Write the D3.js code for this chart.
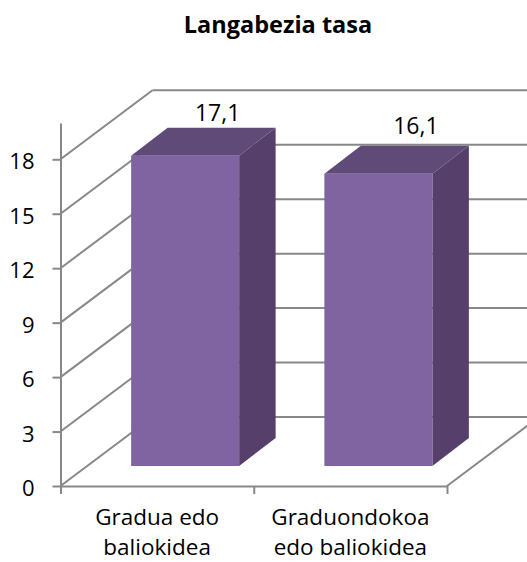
<!DOCTYPE html>
<html>
<head>
<meta charset="utf-8">
<script src="https://cdn.jsdelivr.net/npm/d3@7"></script>
<style>
  html, body { margin: 0; padding: 0; background: #fff; }
  text { font-family: "Open Sans", "Noto Sans", sans-serif; fill: #000; }
</style>
</head>
<body>
<svg id="chart" width="527" height="562" style="display:block"></svg>
<script>
const chartTitle = "Langabezia tasa";
const categories = ["Gradua edo baliokidea", "Graduondokoa edo baliokidea"];
const categoryLines = [["Gradua edo", "baliokidea"], ["Graduondokoa", "edo baliokidea"]];
const values = [17.1, 16.1];
const valueLabels = ["17,1", "16,1"];
const yTicks = [0, 3, 6, 9, 12, 15, 18];

const svg = d3.select("#chart");
const grey = "#888888";

const x = d3.scaleBand().domain(categories).range([60.5, 447]);
const y = d3.scaleLinear().domain([0, 20]).range([486, 123]);

// oblique offset of the back wall, and of the bars
const wallDx = 92, wallDy = -69;
const barInsetX = 28, barInsetY = -20;
const barW = 108, barDx = 36.5, barDy = -28;

svg.append("text")
    .attr("x", 278).attr("y", 33)
    .attr("text-anchor", "middle")
    .attr("font-size", 23.5).attr("font-weight", 700)
    .text(chartTitle);

// back wall gridlines
const grid = svg.append("g").attr("stroke", grey).attr("stroke-width", 2).attr("fill", "none");
yTicks.forEach(t => {
    grid.append("line")
        .attr("x1", x.range()[0] + wallDx).attr("x2", 527)
        .attr("y1", y(t) + wallDy).attr("y2", y(t) + wallDy);
    grid.append("line")
        .attr("x1", x.range()[0]).attr("x2", x.range()[0] + wallDx)
        .attr("y1", y(t)).attr("y2", y(t) + wallDy);
});
// right floor edge
grid.append("line")
    .attr("x1", x.range()[1]).attr("x2", x.range()[1] + wallDx)
    .attr("y1", y(0)).attr("y2", y(0) + wallDy);

// axes
const yAxis = d3.axisLeft(y).tickValues(yTicks).tickSize(8).tickSizeOuter(0).tickPadding(18).tickFormat(d3.format("d"));
const gy = svg.append("g").attr("transform", `translate(${x.range()[0]},0)`).call(yAxis);
gy.selectAll("text").attr("font-size", 22).attr("dy", "0.44em");

const xEdges = [x.range()[0], x(categories[1]), x.range()[1]];
const xAxis = d3.axisBottom(d3.scaleIdentity().domain(x.range())).tickValues(xEdges).tickSize(8).tickSizeOuter(0).tickFormat("");
svg.append("g").attr("transform", `translate(0,${y(0)})`).call(xAxis);
svg.selectAll(".domain, .tick line").attr("stroke", grey).attr("stroke-width", 2);

// bars
const labelNudge = [[-4, -7], [1, -12]];
const bars = svg.append("g").selectAll("g").data(categories).join("g");
bars.each(function(c, i) {
    const g = d3.select(this);
    const left = x(c) + x.bandwidth() / 2 - barW / 2 + barInsetX;
    const right = left + barW;
    const top = y(values[i]) + barInsetY;
    const bottom = y(0) + barInsetY;

    const side = d3.path();
    side.moveTo(right, top);
    side.lineTo(right + barDx, top + barDy);
    side.lineTo(right + barDx, bottom + barDy);
    side.lineTo(right, bottom);
    side.closePath();
    g.append("path").attr("d", side.toString()).attr("fill", "#56406b");

    const lid = d3.path();
    lid.moveTo(left, top);
    lid.lineTo(left + barDx, top + barDy);
    lid.lineTo(right + barDx, top + barDy);
    lid.lineTo(right, top);
    lid.closePath();
    g.append("path").attr("d", lid.toString()).attr("fill", "#5f4a78");

    g.append("rect")
        .attr("x", left).attr("y", top)
        .attr("width", barW).attr("height", bottom - top)
        .attr("fill", "#8064a2");

    g.append("text")
        .attr("x", left + barW / 2 + barDx + labelNudge[i][0])
        .attr("y", top + barDy + labelNudge[i][1])
        .attr("text-anchor", "middle")
        .attr("font-size", 23)
        .text(valueLabels[i]);
});

// category labels
categories.forEach((c, i) => {
    const label = svg.append("text")
        .attr("text-anchor", "middle")
        .attr("font-size", 22.5);
    categoryLines[i].forEach((line, j) => {
        label.append("tspan")
            .attr("x", x(c) + x.bandwidth() / 2)
            .attr("y", 524.5 + j * 30.7)
            .text(line);
    });
});
</script>
</body>
</html>
